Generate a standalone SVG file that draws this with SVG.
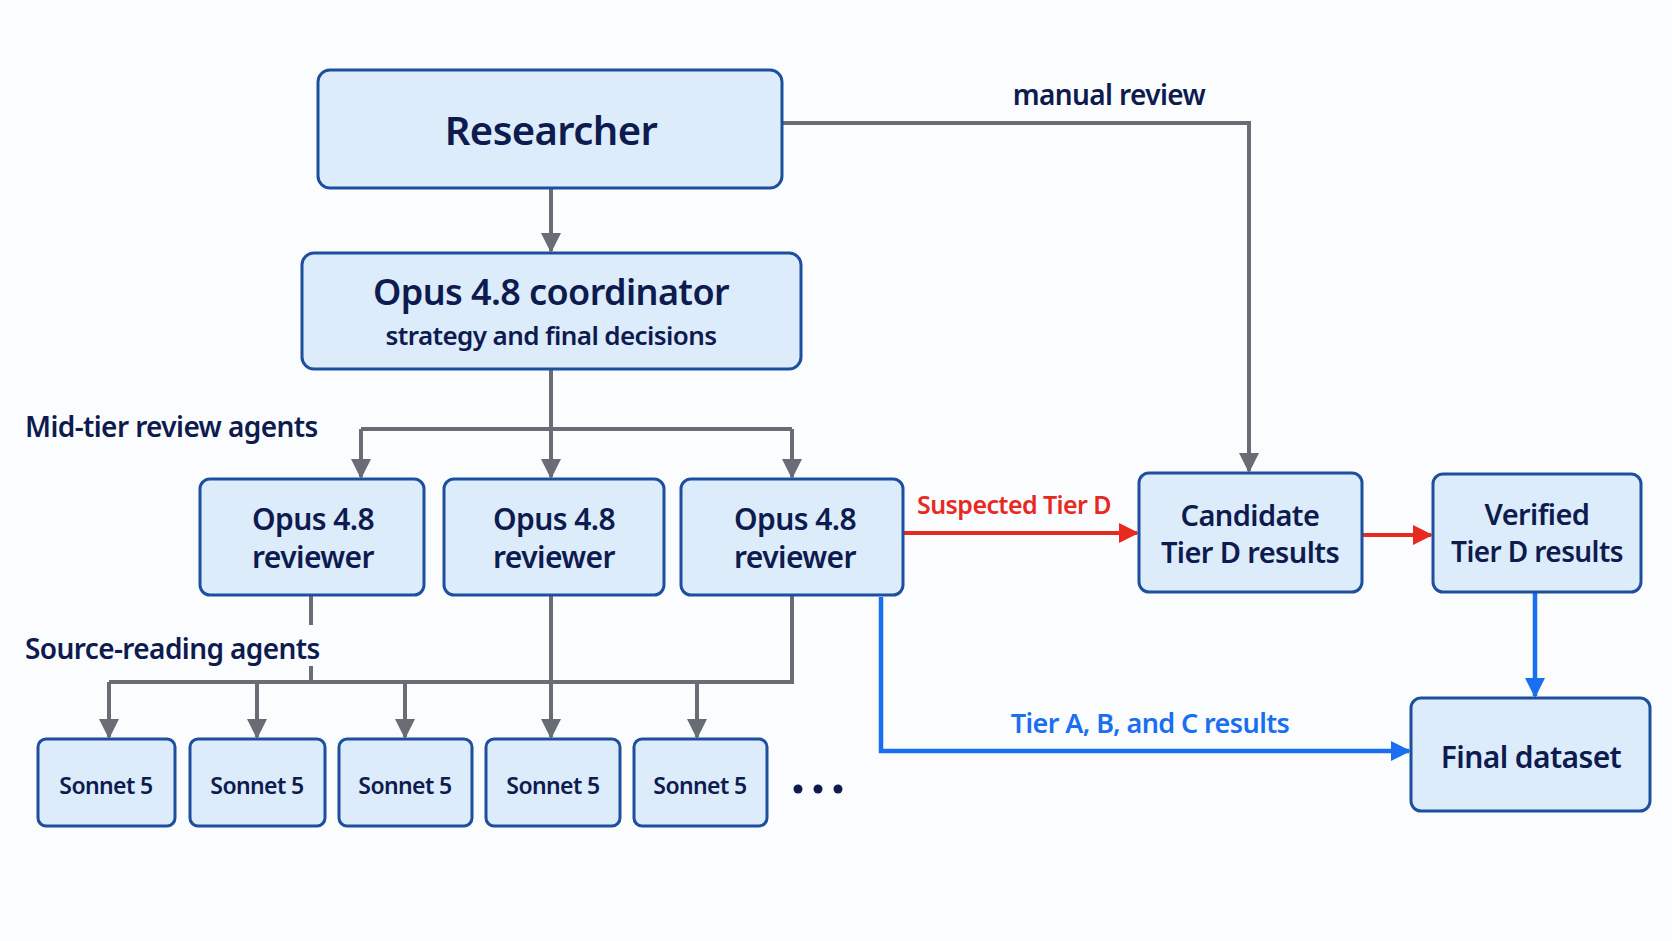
<svg xmlns="http://www.w3.org/2000/svg" width="1672" height="941" viewBox="0 0 1672 941">
<style>
.box{fill:#dcecfb;stroke:#1d4f9e;stroke-width:3}
text{font-family:"Noto Sans","Liberation Sans",sans-serif;font-weight:600;fill:#0e1b4f;text-anchor:middle;letter-spacing:-0.6px}
.g{fill:none;stroke:#686d75;stroke-width:4}
.r{fill:none;stroke:#e8291f;stroke-width:4}
.b{fill:none;stroke:#1a6ff0;stroke-width:4.5}
.lbl{text-anchor:start;font-size:28px}
</style>
<defs>
<marker id="ag" viewBox="0 0 10 10" refX="9" refY="5" markerWidth="5" markerHeight="5" orient="auto" markerUnits="strokeWidth"><path d="M0,0L10,5L0,10z" fill="#686d75"/></marker>
<marker id="ar" viewBox="0 0 10 10" refX="9" refY="5" markerWidth="5" markerHeight="5" orient="auto" markerUnits="strokeWidth"><path d="M0,0L10,5L0,10z" fill="#e8291f"/></marker>
<marker id="ab" viewBox="0 0 10 10" refX="9" refY="5" markerWidth="4.5" markerHeight="4.5" orient="auto" markerUnits="strokeWidth"><path d="M0,0L10,5L0,10z" fill="#1a6ff0"/></marker>
</defs>
<rect width="1672" height="941" fill="#fafcfe"/>
<g id="connectors">
<path class="g" d="M551,188V251" marker-end="url(#ag)"/>
<path class="g" d="M782,123H1249V471" marker-end="url(#ag)"/>
<path class="g" d="M551,369V477"/>
<path class="g" d="M361,429H792"/>
<path class="g" d="M361,429V477" marker-end="url(#ag)"/>
<path class="g" d="M551,429V477" marker-end="url(#ag)"/>
<path class="g" d="M792,429V477" marker-end="url(#ag)"/>
<path class="g" d="M311,595V625M311,666V682"/>
<path class="g" d="M109,682H792V595"/>
<path class="g" d="M551,595V737" marker-end="url(#ag)"/>
<path class="g" d="M109,682V737" marker-end="url(#ag)"/>
<path class="g" d="M257,682V737" marker-end="url(#ag)"/>
<path class="g" d="M405,682V737" marker-end="url(#ag)"/>
<path class="g" d="M697,682V737" marker-end="url(#ag)"/>
<path class="r" d="M903,533H1137" marker-end="url(#ar)"/>
<path class="r" d="M1362,535H1431" marker-end="url(#ar)"/>
<path class="b" d="M881,597V751H1409" marker-end="url(#ab)"/>
<path class="b" d="M1535,592V696" marker-end="url(#ab)"/>
<text x="1109" y="105" font-size="28">manual review</text>
<text x="1014" y="514" font-size="25" style="fill:#e8291f">Suspected Tier D</text>
<text x="1150" y="733" font-size="27" style="fill:#1a6ff0">Tier A, B, and C results</text>
<text class="lbl" x="25" y="437">Mid-tier review agents</text>
<text class="lbl" x="25" y="659">Source-reading agents</text>
</g>
<g id="researcher"><rect class="box" x="318" y="70" width="464" height="118" rx="12"/><text x="551" y="145" font-size="40">Researcher</text></g>
<g id="coordinator"><rect class="box" x="302" y="253" width="499" height="116" rx="12"/><text x="551" y="305" font-size="36">Opus 4.8 coordinator</text><text x="551" y="345" font-size="26" font-weight="500">strategy and final decisions</text></g>
<g id="rev1"><rect class="box" x="200" y="479" width="224" height="116" rx="10"/><text x="313" y="530" font-size="30">Opus 4.8</text><text x="313" y="568" font-size="30">reviewer</text></g>
<g id="rev2"><rect class="box" x="444" y="479" width="220" height="116" rx="10"/><text x="554" y="530" font-size="30">Opus 4.8</text><text x="554" y="568" font-size="30">reviewer</text></g>
<g id="rev3"><rect class="box" x="681" y="479" width="222" height="116" rx="10"/><text x="795" y="530" font-size="30">Opus 4.8</text><text x="795" y="568" font-size="30">reviewer</text></g>
<g id="candidate"><rect class="box" x="1139" y="473" width="223" height="119" rx="10"/><text x="1250" y="526" font-size="29">Candidate</text><text x="1250" y="563" font-size="29">Tier D results</text></g>
<g id="verified"><rect class="box" x="1433" y="474" width="208" height="118" rx="10"/><text x="1537" y="525" font-size="29">Verified</text><text x="1537" y="562" font-size="28">Tier D results</text></g>
<g id="final"><rect class="box" x="1411" y="698" width="239" height="113" rx="10"/><text x="1531" y="768" font-size="30">Final dataset</text></g>
<g id="s1"><rect class="box" x="38" y="739" width="137" height="87" rx="8"/><text x="106" y="794" font-size="23">Sonnet 5</text></g>
<g id="s2"><rect class="box" x="190" y="739" width="135" height="87" rx="8"/><text x="257" y="794" font-size="23">Sonnet 5</text></g>
<g id="s3"><rect class="box" x="339" y="739" width="133" height="87" rx="8"/><text x="405" y="794" font-size="23">Sonnet 5</text></g>
<g id="s4"><rect class="box" x="486" y="739" width="134" height="87" rx="8"/><text x="553" y="794" font-size="23">Sonnet 5</text></g>
<g id="s5"><rect class="box" x="634" y="739" width="133" height="87" rx="8"/><text x="700" y="794" font-size="23">Sonnet 5</text></g>
<g id="dots" fill="#0e1b4f"><circle cx="798" cy="789" r="4.5"/><circle cx="818" cy="789" r="4.5"/><circle cx="838" cy="789" r="4.5"/></g>
</svg>
